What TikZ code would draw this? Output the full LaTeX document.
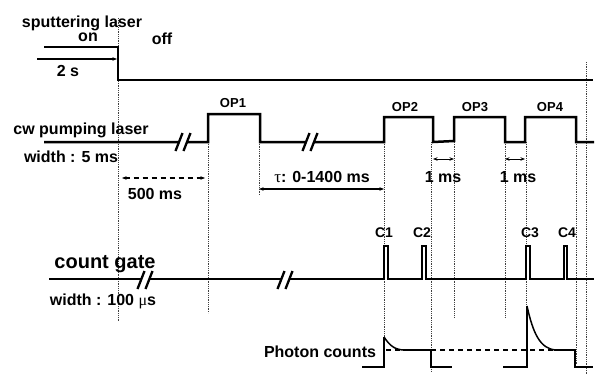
\documentclass[tikz,border=0pt]{standalone}
\usepackage{fontspec}
\setmainfont{Liberation Sans}
\newfontfamily\grk{Liberation Serif}
\usetikzlibrary{arrows.meta}
\begin{document}
\begin{tikzpicture}[x=1pt,y=-1pt,
  sig/.style={line width=2.5pt, line join=miter, line cap=butt},
  vdot/.style={line width=0.9pt, dash pattern=on 0.9pt off 0.9pt, black!75},
  thin/.style={line width=1.1pt},
  tip/.style={-{Stealth[length=4.5pt,width=3.5pt]}},
  tips/.style={{Stealth[length=4.5pt,width=3.5pt]}-{Stealth[length=4.5pt,width=3.5pt]}},
  lbl/.style={font=\fontsize{16}{18}\selectfont\bfseries, inner sep=0pt},
  oplbl/.style={font=\fontsize{13}{15}\selectfont\bfseries, inner sep=0pt},
  clbl/.style={font=\fontsize{14}{16}\selectfont\bfseries, inner sep=0pt},
  biglbl/.style={font=\fontsize{20}{22}\selectfont\bfseries, inner sep=0pt},
  brk/.pic={
    \fill[white] (-7.5,9) -- (-0.5,-9) -- (7.5,-9) -- (0.5,9) -- cycle;
    \draw[line width=2.3pt] (-7.5,9) -- (-0.5,-9);
    \draw[line width=2.3pt] (0.5,9) -- (7.5,-9);
  }]
\useasboundingbox (0,0) rectangle (595,375);

% ---- dotted time markers
\draw[vdot] (118,18) -- (118,322);
\draw[vdot] (208,142) -- (208,313);
\draw[vdot] (259,142) -- (259,195);
\draw[vdot] (384,142) -- (384,337);
\draw[vdot] (431,142) -- (431,372);
\draw[vdot] (454,142) -- (454,317);
\draw[vdot] (505,142) -- (505,317);
\draw[vdot] (526,142) -- (526,306);
\draw[vdot] (576,142) -- (576,365);
\draw[vdot] (586,62) -- (586,375);

% ---- sputtering laser
\node[lbl,anchor=base] (sput) at (82,27.5) {sputtering laser};
\node[lbl,anchor=base] (on) at (88,41.5) {on};
\node[lbl] (off) at (162,39) {off};
\draw[sig] (44,47) -- (118,47) -- (118,80) -- (593,80);
\coordinate (s0) at (37,59);
\coordinate (s1) at (117,59);
\draw[thin,tip] (s0) -- (s1);
\node[lbl] (twos) at (68,71) {2 s};

% ---- cw pumping laser
\node[lbl] (cw) at (81,130) {cw pumping laser};
\node[lbl] (w5) at (71,157) {width : 5 ms};
\draw[sig] (44,142) -- (208,142) -- (208,114) -- (260,114) -- (260,142)
  -- (384,142) -- (384,117) -- (433,117) -- (433,142) -- (454,141)
  -- (454,117) -- (505,117) -- (505,142) -- (525,142) -- (525,117)
  -- (576,117) -- (576,142) -- (594,142);
\pic at (183,142) {brk};
\pic at (310,142) {brk};
\node[oplbl] (op1) at (233,103) {OP1};
\node[oplbl] (op2) at (405,107) {OP2};
\node[oplbl] (op3) at (475,107) {OP3};
\node[oplbl] (op4) at (550,107) {OP4};

% delays
\coordinate (d0) at (122,178);
\coordinate (d1) at (205,178);
\draw[thin,tips,dashed,dash pattern=on 5pt off 4pt] (d0) -- (d1);
\node[lbl] (t500) at (155,194) {500 ms};
\coordinate (t0) at (259,189);
\coordinate (t1) at (384,189);
\draw[thin,tips] (t0) -- (t1);
\node[lbl] (tau) at (322,177) {{\grk\mdseries\fontsize{17}{18}\selectfont τ}: 0-1400 ms};
\coordinate (m0) at (433,159);
\coordinate (m1) at (454,159);
\draw[line width=0.8pt,tips] (m0) -- (m1);
\node[lbl] (ms1) at (443,177) {1 ms};
\coordinate (n0) at (505,159);
\coordinate (n1) at (525,159);
\draw[line width=0.8pt,tips] (n0) -- (n1);
\node[lbl] (ms2) at (518,177) {1 ms};

% ---- count gate
\node[biglbl] (cg) at (105,264) {count gate};
\node[lbl] (w100) at (103,301) {width : 100 {\grk\mdseries μ}s};
\draw[sig] (49,279) -- (384,279) -- (384,246) -- (388,246) -- (388,279)
  -- (422,279) -- (422,246) -- (426,246) -- (426,279)
  -- (526,279) -- (526,246) -- (530,246) -- (530,279)
  -- (564,279) -- (564,246) -- (567,246) -- (567,279) -- (594,279);
\pic at (145,280) {brk};
\pic at (285,280) {brk};
\node[clbl] (c1) at (384,233) {C1};
\node[clbl] (c2) at (422,233) {C2};
\node[clbl] (c3) at (530,233) {C3};
\node[clbl] (c4) at (567,233) {C4};

% ---- photon counts
\node[lbl] (pc) at (320,352) {Photon counts};
\draw[line width=1.2pt, dash pattern=on 5pt off 4pt] (386,350) -- (575,350);
\draw[sig] (362,367) -- (384,367) -- (384,337);
\draw[line width=1.5pt] (384,337) .. controls (390,346) and (395,350) .. (405,350);
\draw[sig] (403,350) -- (431,350) -- (431,367) -- (452,367);
\draw[sig] (503,367) -- (527,367) -- (527,306);
\draw[line width=1.5pt] (527,306) .. controls (533,333) and (540,349) .. (556,350);
\draw[sig] (554,350) -- (575,350) -- (575,367) -- (593,367);
\end{tikzpicture}
\end{document}
